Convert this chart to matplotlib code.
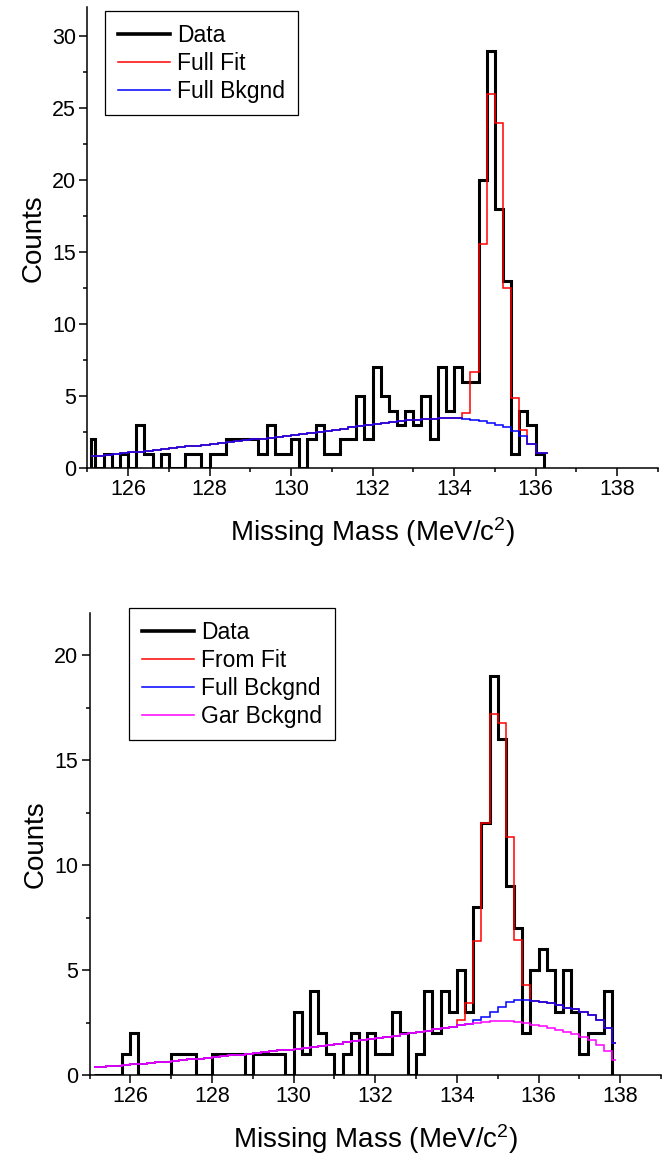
import numpy as np
import matplotlib
matplotlib.use("Agg")
import matplotlib.pyplot as plt
from matplotlib.lines import Line2D

plt.rcParams["font.family"] = ["Liberation Sans", "DejaVu Sans"]
plt.rcParams["mathtext.fontset"] = "custom"
plt.rcParams["mathtext.rm"] = "Liberation Sans"
plt.rcParams["mathtext.it"] = "Liberation Sans:italic"

# ---- top panel (bins: 125.1-125.2, then 0.2 MeV wide) ----
top_counts = [2, 0, 1, 0, 1, 0, 3, 1, 0, 1,
              0, 0, 1, 1, 0, 1, 1, 2, 2, 2,
              2, 1, 3, 1, 1, 2, 0, 2, 3, 1,
              1, 2, 2, 5, 2, 7, 5, 4, 3, 4,
              3, 5, 2, 7, 4, 7, 6, 6, 20, 29,
              18, 13, 1, 4, 3, 1]
top_bkg = [0.82, 0.86, 0.92, 0.98, 1.04, 1.10, 1.16, 1.22, 1.28, 1.34,
           1.40, 1.46, 1.52, 1.58, 1.64, 1.70, 1.76, 1.82, 1.88, 1.94,
           2.00, 2.06, 2.12, 2.19, 2.26, 2.33, 2.40, 2.47, 2.54, 2.61,
           2.68, 2.76, 2.84, 2.92, 3.00, 3.08, 3.15, 3.22, 3.28, 3.33,
           3.38, 3.42, 3.45, 3.47, 3.47, 3.46, 3.42, 3.36, 3.27, 3.15,
           3.00, 2.84, 2.62, 2.25, 1.68, 1.04]
top_fit_from = 134.2
top_fit_peak = [3.85, 6.7, 15.6, 26.0, 24.0, 12.5, 4.85, 2.65]

# ---- bottom panel ----
bot_counts = [0, 0, 0, 0, 1, 2, 0, 0, 0, 0,
              1, 1, 1, 0, 0, 1, 1, 1, 1, 0,
              1, 1, 1, 1, 0, 3, 1, 4, 2, 1,
              0, 1, 2, 0, 2, 1, 1, 3, 2, 0,
              1, 4, 2, 4, 3, 5, 3, 8, 12, 19,
              16, 9, 7, 2, 5, 6, 5, 3, 5, 3,
              1, 2, 2, 4]
bot_gar_bkg = [0.36, 0.38, 0.41, 0.44, 0.48, 0.51, 0.54, 0.58, 0.61, 0.64,
               0.68, 0.71, 0.75, 0.78, 0.82, 0.85, 0.89, 0.93, 0.97, 1.01,
               1.05, 1.09, 1.13, 1.17, 1.21, 1.25, 1.30, 1.35, 1.40, 1.45,
               1.50, 1.55, 1.61, 1.66, 1.72, 1.77, 1.83, 1.88, 1.94, 1.99,
               2.05, 2.11, 2.17, 2.23, 2.30, 2.38, 2.44, 2.50, 2.54, 2.57,
               2.59, 2.56, 2.53, 2.46, 2.38, 2.31, 2.23, 2.14, 2.03, 1.94,
               1.83, 1.67, 1.43, 1.16, 0.71]
bot_full_from = 134.4
bot_full_tail = [2.62, 2.78, 3.02, 3.25, 3.49, 3.57, 3.57, 3.54, 3.46, 3.42,
                 3.33, 3.20, 3.12, 3.00, 2.88, 2.63, 2.25, 1.54]
bot_fit_from = 134.0
bot_fit_peak = [2.62, 3.44, 6.38, 12.0, 17.2, 16.75, 11.35, 6.43, 4.29]

x_ticks = [126, 128, 130, 132, 134, 136, 138]


def make_edges(first, stop, last):
    # first partial bin, regular 0.2 MeV bins up to `stop`, final edge `last`
    mid = np.arange(125.2, stop + 0.01, 0.2)
    return np.round(np.r_[first, mid, last], 2)


def patch_in(base, edges, start, values):
    out = np.array(base, dtype=float)
    i = int(np.argmin(np.abs(edges[:-1] - start)))
    out[i:i + len(values)] = values
    return out


W, H = 670, 1160
fig = plt.figure(figsize=(W / 100, H / 100), dpi=100)
ax1 = fig.add_axes([87.3 / W, 1 - 468.3 / H, 570.5 / W, 461 / H])
ax2 = fig.add_axes([89.5 / W, 1 - 1075 / H, 571.5 / W, 462 / H])

# top
e_data = make_edges(125.1, 136.0, 136.2)
e_bkg = make_edges(125.1, 136.0, 136.3)
fit_top = patch_in(top_bkg, e_bkg, top_fit_from, top_fit_peak)
ax1.stairs(top_counts, e_data, baseline=0, color="black", lw=2.2, zorder=2)
ax1.stairs(fit_top, e_bkg, baseline=None, color="#ff0000", lw=1.1, zorder=3)
ax1.stairs(top_bkg, e_bkg, baseline=None, color="#0000ff", lw=1.1, zorder=4)

# bottom
e_data2 = make_edges(125.1, 137.6, 137.8)
e_bkg2 = make_edges(125.1, 137.8, 137.9)
full_bot = patch_in(bot_gar_bkg, e_bkg2, bot_full_from, bot_full_tail)
fit_bot = patch_in(full_bot, e_bkg2, bot_fit_from, bot_fit_peak)
ax2.stairs(bot_counts, e_data2, baseline=0, color="black", lw=2.2, zorder=2)
ax2.stairs(fit_bot, e_bkg2, baseline=None, color="#ff0000", lw=1.1, zorder=3)
ax2.stairs(full_bot, e_bkg2, baseline=None, color="#0000ff", lw=1.1, zorder=4)
ax2.stairs(bot_gar_bkg, e_bkg2, baseline=None, color="#ff00ff", lw=1.1, zorder=5)

for ax, ymax in ((ax1, 32), (ax2, 22)):
    ax.set_xlim(125, 139)
    ax.set_ylim(0, ymax)
    ax.set_xticks(x_ticks)
    ax.set_xticks(np.arange(125, 140, 1), minor=True)
    ax.set_yticks(np.arange(0, ymax + 1, 5))
    ax.set_yticks(np.arange(0, ymax + 0.1, 2.5), minor=True)
    for s in ("top", "right"):
        ax.spines[s].set_visible(False)
    for s in ("left", "bottom"):
        ax.spines[s].set_linewidth(1.1)
    ax.tick_params(which="major", direction="out", length=5.5, width=1.1,
                   labelsize=15.5, pad=2.5)
    ax.tick_params(which="minor", direction="out", length=3, width=1.1)
    ax.set_xlabel("Missing Mass (MeV/c$^{2}$)", fontsize=20, labelpad=11)
    ax.set_ylabel("Counts", fontsize=20, labelpad=4)

leg_kw = dict(loc="upper left", bbox_transform=fig.transFigure,
              borderaxespad=0, fontsize=16.5, frameon=True, fancybox=False,
              edgecolor="black", framealpha=1, handlelength=2.3,
              handletextpad=0.3, labelspacing=0.22, borderpad=0.55)

h_top = [Line2D([], [], color="black", lw=2.6),
         Line2D([], [], color="#ff0000", lw=1.1),
         Line2D([], [], color="#0000ff", lw=1.1)]
ax1.legend(h_top, ["Data", "Full Fit", "Full Bkgnd"],
           bbox_to_anchor=(105 / W, 1 - 11 / H), **leg_kw)

h_bot = [Line2D([], [], color="black", lw=2.6),
         Line2D([], [], color="#ff0000", lw=1.1),
         Line2D([], [], color="#0000ff", lw=1.1),
         Line2D([], [], color="#ff00ff", lw=1.1)]
ax2.legend(h_bot, ["Data", "From Fit", "Full Bckgnd", "Gar Bckgnd"],
           bbox_to_anchor=(129 / W, 1 - 608 / H), **leg_kw)

for leg in (ax1.get_legend(), ax2.get_legend()):
    leg.get_frame().set_linewidth(0.9)

fig.savefig("out.png", dpi=100)
